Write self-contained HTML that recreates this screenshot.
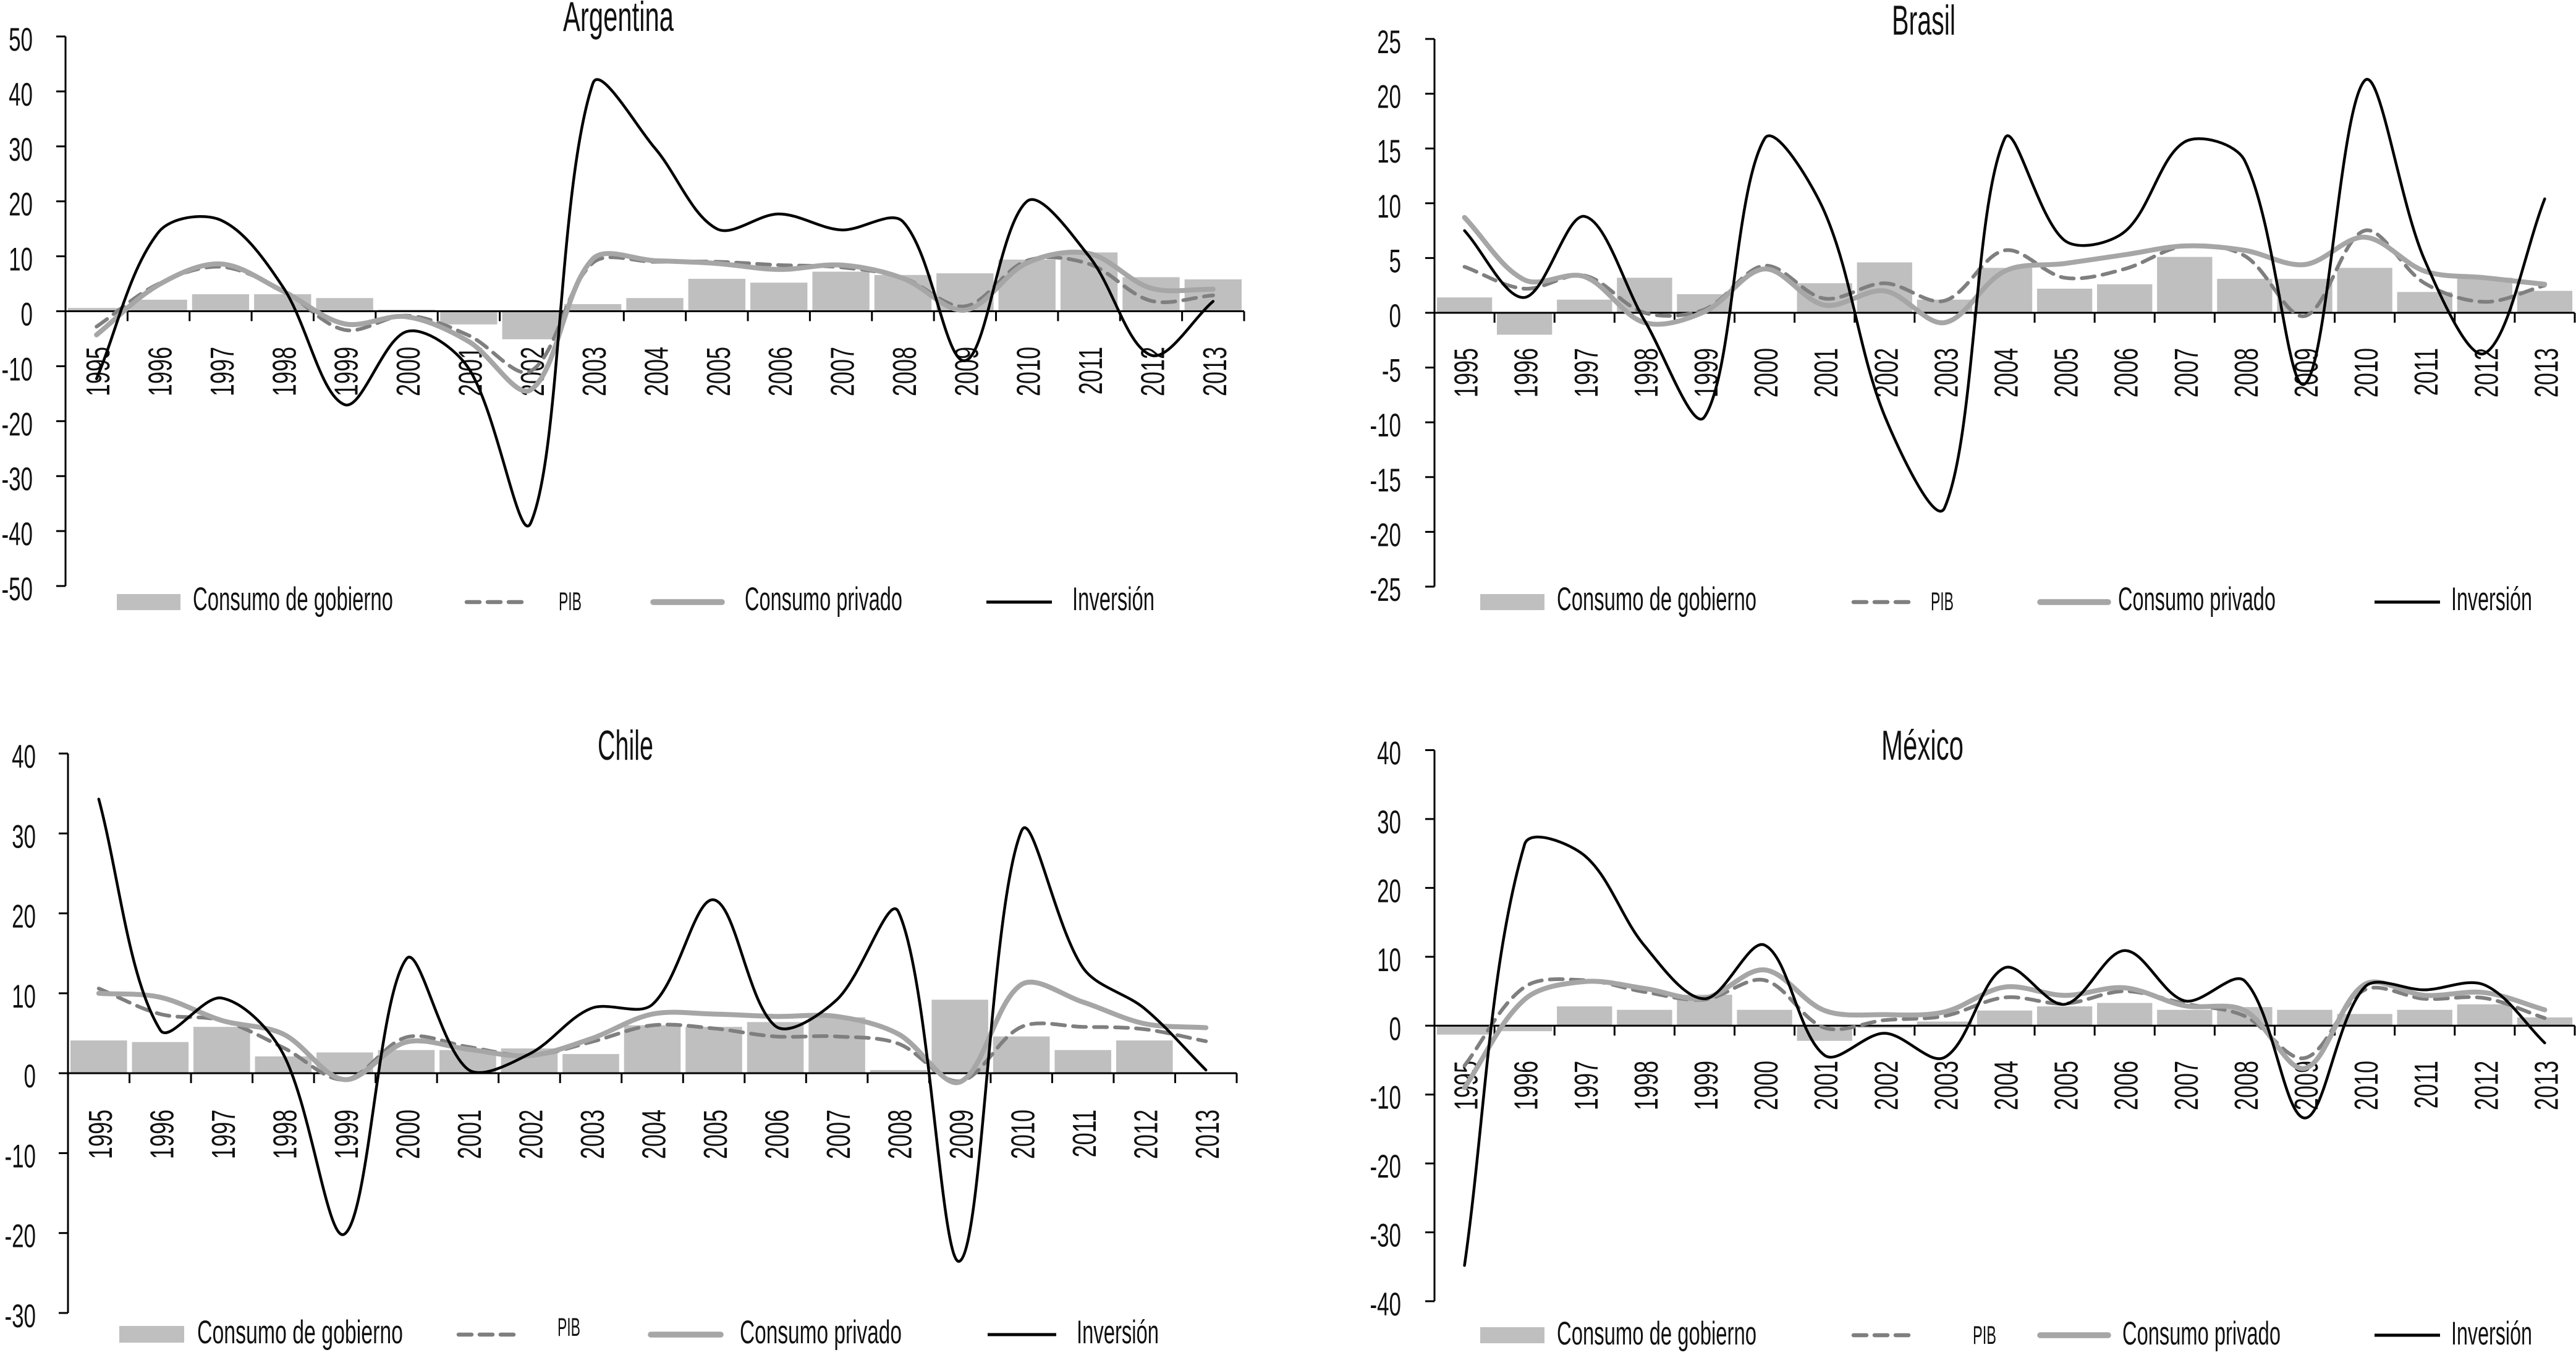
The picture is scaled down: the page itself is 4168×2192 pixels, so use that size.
<!DOCTYPE html>
<html lang="es">
<head>
<meta charset="utf-8">
<title>Consumo, PIB e inversión</title>
<style>
html,body{margin:0;padding:0;background:#fff;}
body{width:4168px;height:2192px;overflow:hidden;}
svg{display:block;}
text{font-family:"Liberation Sans",sans-serif;fill:#111;}
.ttl{font-size:68px;}
.leg{font-size:53px;}
.pib{font-size:42px;}
</style>
</head>
<body>
<svg id="chart" xmlns="http://www.w3.org/2000/svg" width="4168" height="2192" viewBox="0 0 4168 2192">
  <rect x="0" y="0" width="4168" height="2192" fill="#ffffff"/>

  <g id="panel-argentina">
    <text class="ttl" x="911" y="50" textLength="179" lengthAdjust="spacingAndGlyphs">Argentina</text>
  </g>
  <g id="panel-brasil">
    <text class="ttl" x="3061" y="56" textLength="103" lengthAdjust="spacingAndGlyphs">Brasil</text>
  </g>
  <g id="panel-chile">
    <text class="ttl" x="967" y="1229" textLength="90" lengthAdjust="spacingAndGlyphs">Chile</text>
  </g>
  <g id="panel-mexico">
    <text class="ttl" x="3044" y="1229" textLength="133" lengthAdjust="spacingAndGlyphs">México</text>
  </g>

  <g id="legend-argentina">
    <rect x="189" y="961" width="103" height="26" fill="#bfbfbf"/>
    <text class="leg" x="312" y="987" textLength="324" lengthAdjust="spacingAndGlyphs">Consumo de gobierno</text>
    <line x1="755" y1="974" x2="851" y2="974" stroke="#7f7f7f" stroke-width="6.5" stroke-dasharray="21 13" stroke-linecap="round"/>
    <text class="pib" x="904" y="987" textLength="37" lengthAdjust="spacingAndGlyphs">PIB</text>
    <line x1="1057" y1="974" x2="1168" y2="974" stroke="#a6a6a6" stroke-width="9.5" stroke-linecap="round"/>
    <text class="leg" x="1205" y="987" textLength="255" lengthAdjust="spacingAndGlyphs">Consumo privado</text>
    <line x1="1596" y1="974" x2="1702" y2="974" stroke="#000" stroke-width="5"/>
    <text class="leg" x="1735" y="987" textLength="133" lengthAdjust="spacingAndGlyphs">Inversión</text>
  </g>
  <g id="legend-brasil">
    <rect x="2395" y="961" width="104" height="26" fill="#bfbfbf"/>
    <text class="leg" x="2519" y="987" textLength="323" lengthAdjust="spacingAndGlyphs">Consumo de gobierno</text>
    <line x1="2999" y1="974" x2="3097" y2="974" stroke="#7f7f7f" stroke-width="6.5" stroke-dasharray="21 13" stroke-linecap="round"/>
    <text class="pib" x="3124" y="987" textLength="37" lengthAdjust="spacingAndGlyphs">PIB</text>
    <line x1="3301" y1="974" x2="3411" y2="974" stroke="#a6a6a6" stroke-width="9.5" stroke-linecap="round"/>
    <text class="leg" x="3427" y="987" textLength="255" lengthAdjust="spacingAndGlyphs">Consumo privado</text>
    <line x1="3842" y1="974" x2="3948" y2="974" stroke="#000" stroke-width="5"/>
    <text class="leg" x="3966" y="987" textLength="131" lengthAdjust="spacingAndGlyphs">Inversión</text>
  </g>
  <g id="legend-chile">
    <rect x="193" y="2145" width="105" height="27" fill="#bfbfbf"/>
    <text class="leg" x="319" y="2173" textLength="333" lengthAdjust="spacingAndGlyphs">Consumo de gobierno</text>
    <line x1="742" y1="2159" x2="844" y2="2159" stroke="#7f7f7f" stroke-width="6.5" stroke-dasharray="21 13" stroke-linecap="round"/>
    <text class="pib" x="902" y="2161" textLength="37" lengthAdjust="spacingAndGlyphs">PIB</text>
    <line x1="1053" y1="2159" x2="1166" y2="2159" stroke="#a6a6a6" stroke-width="9.5" stroke-linecap="round"/>
    <text class="leg" x="1197" y="2173" textLength="262" lengthAdjust="spacingAndGlyphs">Consumo privado</text>
    <line x1="1598" y1="2159" x2="1709" y2="2159" stroke="#000" stroke-width="5"/>
    <text class="leg" x="1742" y="2173" textLength="133" lengthAdjust="spacingAndGlyphs">Inversión</text>
  </g>
  <g id="legend-mexico">
    <rect x="2395" y="2147" width="104" height="26" fill="#bfbfbf"/>
    <text class="leg" x="2519" y="2175" textLength="323" lengthAdjust="spacingAndGlyphs">Consumo de gobierno</text>
    <line x1="2999" y1="2160" x2="3097" y2="2160" stroke="#7f7f7f" stroke-width="6.5" stroke-dasharray="21 13" stroke-linecap="round"/>
    <text class="pib" x="3192" y="2174" textLength="38" lengthAdjust="spacingAndGlyphs">PIB</text>
    <line x1="3301" y1="2160" x2="3411" y2="2160" stroke="#a6a6a6" stroke-width="9.5" stroke-linecap="round"/>
    <text class="leg" x="3434" y="2175" textLength="256" lengthAdjust="spacingAndGlyphs">Consumo privado</text>
    <line x1="3842" y1="2160" x2="3948" y2="2160" stroke="#000" stroke-width="5"/>
    <text class="leg" x="3966" y="2175" textLength="131" lengthAdjust="spacingAndGlyphs">Inversión</text>
  </g>
</svg>

<script>
const years = ['1995','1996','1997','1998','1999','2000','2001','2002','2003','2004','2005','2006','2007','2008','2009','2010','2011','2012','2013'];

const argTicks = [50,40,30,20,10,0,-10,-20,-30,-40,-50];
const argGobierno = [0.6,2.1,3.1,3.1,2.4,0.3,-2.4,-5.1,1.3,2.4,5.9,5.2,7.2,6.6,6.9,9.4,10.7,6.2,5.8];
const argPib = [-2.8,5.0,8.1,3.8,-3.4,-0.8,-4.4,-10.9,8.8,9.0,9.0,8.4,8.0,6.1,0.9,9.2,8.6,1.9,2.9];
const argPrivado = [-4.3,4.8,8.6,3.7,-2.3,-1.0,-5.5,-14.3,9.5,9.2,8.7,7.6,8.4,6.0,0.2,8.8,10.5,4.2,4.0];
const argInversion = [-12.3,14.4,16.6,4.5,-17.0,-3.7,-10.4,-38.5,41.4,29.7,15.0,17.7,14.8,16.3,-9.0,20.0,10.0,-8.0,1.8];

const braTicks = [25,20,15,10,5,0,-5,-10,-15,-20,-25];
const braGobierno = [1.4,-2.0,1.2,3.2,1.7,0.1,2.7,4.6,1.2,4.1,2.2,2.6,5.1,3.1,3.1,4.1,1.9,3.2,2.0];
const braPib = [4.2,2.2,3.4,0.0,0.3,4.3,1.3,2.7,1.1,5.7,3.2,4.0,6.1,5.2,-0.3,7.5,2.7,1.0,2.5];
const braPrivado = [8.7,3.0,3.3,-0.9,0.1,4.0,0.7,2.0,-0.9,3.8,4.5,5.3,6.1,5.7,4.4,6.9,3.8,3.2,2.6];
const braInversion = [7.5,1.4,8.8,-0.7,-9.5,15.9,9.2,-9.4,-17.8,15.9,6.6,7.4,15.6,13.9,-6.5,21.2,4.8,-3.7,10.4];

const chiTicks = [40,30,20,10,0,-10,-20,-30];
const chiGobierno = [4.1,3.9,5.8,2.1,2.6,2.9,2.9,3.1,2.4,6.0,5.8,6.4,7.0,0.4,9.2,4.6,2.9,4.1,0];
const chiPib = [10.6,7.4,6.6,3.2,-0.8,4.5,3.3,2.2,3.9,6.0,5.6,4.6,4.6,3.7,-1.0,5.8,5.8,5.5,4.0];
const chiPrivado = [10.0,9.5,6.6,4.9,-0.8,3.9,3.0,2.2,4.3,7.4,7.4,7.1,7.1,4.9,-1.1,11.1,8.9,6.2,5.7];
const chiInversion = [34.3,5.4,9.4,2.4,-20.1,14.3,0.5,2.4,8.1,8.6,21.7,5.9,9.2,20.2,-23.5,30.3,13.2,8.1,0.4];

const mexTicks = [40,30,20,10,0,-10,-20,-30,-40];
const mexGobierno = [-1.3,-0.8,2.8,2.3,4.5,2.3,-2.2,-0.3,0.6,2.2,2.8,3.3,2.3,2.7,2.3,1.7,2.3,3.1,1.2];
const mexPib = [-5.8,5.6,6.6,4.9,3.8,6.6,-0.3,0.8,1.4,4.1,3.2,5.0,3.2,1.4,-4.7,5.2,3.9,4.0,1.1];
const mexPrivado = [-9.0,3.8,6.4,5.4,4.0,8.1,2.2,1.6,2.0,5.6,4.4,5.5,2.9,2.2,-6.2,6.0,4.4,4.8,2.3];
const mexInversion = [-34.8,26.3,24.7,11.6,3.9,11.7,-4.3,-1.1,-4.6,8.4,3.1,10.9,3.6,6.5,-13.4,5.6,5.2,5.9,-2.5];

const NS = 'http://www.w3.org/2000/svg';

function make(tag, attrs, parent) {
  const el = document.createElementNS(NS, tag);
  for (const k in attrs) el.setAttribute(k, attrs[k]);
  parent.appendChild(el);
  return el;
}

function smoothPath(pts) {
  const n = pts.length;
  const dist = (a, b) => Math.hypot(b[0] - a[0], b[1] - a[1]);
  let d = 'M' + pts[0][0].toFixed(1) + ' ' + pts[0][1].toFixed(1);
  for (let i = 0; i < n - 1; i++) {
    const p1 = pts[i], p2 = pts[i + 1];
    const seg = dist(p1, p2);
    let c1x, c1y, c2x, c2y;
    if (i === 0) {
      c1x = p1[0] + (p2[0] - p1[0]) / 3;
      c1y = p1[1] + (p2[1] - p1[1]) / 3;
    } else {
      const p0 = pts[i - 1];
      const w = seg / (dist(p0, p1) + seg) / 3;
      c1x = p1[0] + (p2[0] - p0[0]) * w;
      c1y = p1[1] + (p2[1] - p0[1]) * w;
    }
    if (i === n - 2) {
      c2x = p2[0] - (p2[0] - p1[0]) / 3;
      c2y = p2[1] - (p2[1] - p1[1]) / 3;
    } else {
      const p3 = pts[i + 2];
      const w = seg / (seg + dist(p2, p3)) / 3;
      c2x = p2[0] - (p3[0] - p1[0]) * w;
      c2y = p2[1] - (p3[1] - p1[1]) * w;
    }
    d += 'C' + c1x.toFixed(1) + ' ' + c1y.toFixed(1) + ' ' + c2x.toFixed(1) + ' ' + c2y.toFixed(1) + ' ' + p2[0].toFixed(1) + ' ' + p2[1].toFixed(1);
  }
  return d;
}

function drawPanel(p) {
  const root = document.getElementById(p.id);
  const n = years.length;
  const cw = (p.right - p.left) / n;
  const unit = (p.bottom - p.top) / (p.ticks[0] - p.ticks[p.ticks.length - 1]);
  const yOf = v => p.top + (p.ticks[0] - v) * unit;
  const xOf = i => p.left + cw * (i + 0.5);
  const zero = yOf(0);

  p.bars.forEach(function (v, i) {
    const h = Math.abs(v) * unit;
    const bar = make('rect', {x: xOf(i) - cw * 0.46, y: v >= 0 ? zero - h : zero, width: cw * 0.92, height: h, fill: '#bfbfbf'}, root);
    
    
  });

  const yAxis = make('line', {x1: p.left, y1: p.top, x2: p.left, y2: p.bottom, stroke: '#000', 'stroke-width': 3}, root);
  
  

  const xAxis = make('line', {x1: p.left, y1: zero, x2: p.right, y2: zero, stroke: '#000', 'stroke-width': 3}, root);
  
  

  p.ticks.forEach(function (t) {
    const tick = make('line', {x1: p.left - 15, y1: yOf(t), x2: p.left, y2: yOf(t), stroke: '#000', 'stroke-width': 3}, root);
    
    
    const lab = make('text', {'text-anchor': 'end', 'font-size': 53, transform: 'translate(' + p.yLabelRight + ',' + (yOf(t) + 23) + ') scale(0.66,1)'}, root);
    lab.textContent = String(t);
    
    
  });

  for (let i = 1; i <= n; i++) {
    const xt = p.left + cw * i;
    const tick = make('line', {x1: xt, y1: zero, x2: xt, y2: zero + 16, stroke: '#000', 'stroke-width': 3}, root);
    
    
  }

  years.forEach(function (yr, i) {
    const lab = make('text', {'text-anchor': 'end', 'font-size': 54, transform: 'translate(' + (xOf(i) + 21) + ',' + p.xLabelTop + ') rotate(-90) scale(0.667,1)'}, root);
    lab.textContent = yr;
    
    
  });

  const toPts = arr => arr.map((v, i) => [xOf(i), yOf(v)]);

  const pib = make('path', {d: smoothPath(toPts(p.pib)), fill: 'none', stroke: '#7f7f7f', 'stroke-width': 6, 'stroke-dasharray': '21 13', 'stroke-linecap': 'round'}, root);
  
  

  const priv = make('path', {d: smoothPath(toPts(p.privado)), fill: 'none', stroke: '#a6a6a6', 'stroke-width': 8, 'stroke-linecap': 'round'}, root);
  
  

  const inv = make('path', {d: smoothPath(toPts(p.inversion)), fill: 'none', stroke: '#000', 'stroke-width': 4.5, 'stroke-linecap': 'round'}, root);
  
  
}

drawPanel({id: 'panel-argentina', left: 106, right: 2013, top: 59, bottom: 948, yLabelRight: 53, xLabelTop: 561, ticks: argTicks, bars: argGobierno, pib: argPib, privado: argPrivado, inversion: argInversion});
drawPanel({id: 'panel-brasil', left: 2321, right: 4166, top: 63, bottom: 949, yLabelRight: 2267, xLabelTop: 563, ticks: braTicks, bars: braGobierno, pib: braPib, privado: braPrivado, inversion: braInversion});
drawPanel({id: 'panel-chile', left: 110, right: 2001, top: 1219, bottom: 2124, yLabelRight: 58, xLabelTop: 1795, ticks: chiTicks, bars: chiGobierno, pib: chiPib, privado: chiPrivado, inversion: chiInversion});
drawPanel({id: 'panel-mexico', left: 2321, right: 4166, top: 1213.5, bottom: 2105, yLabelRight: 2267, xLabelTop: 1716, ticks: mexTicks, bars: mexGobierno, pib: mexPib, privado: mexPrivado, inversion: mexInversion});
</script>
</body>
</html>
